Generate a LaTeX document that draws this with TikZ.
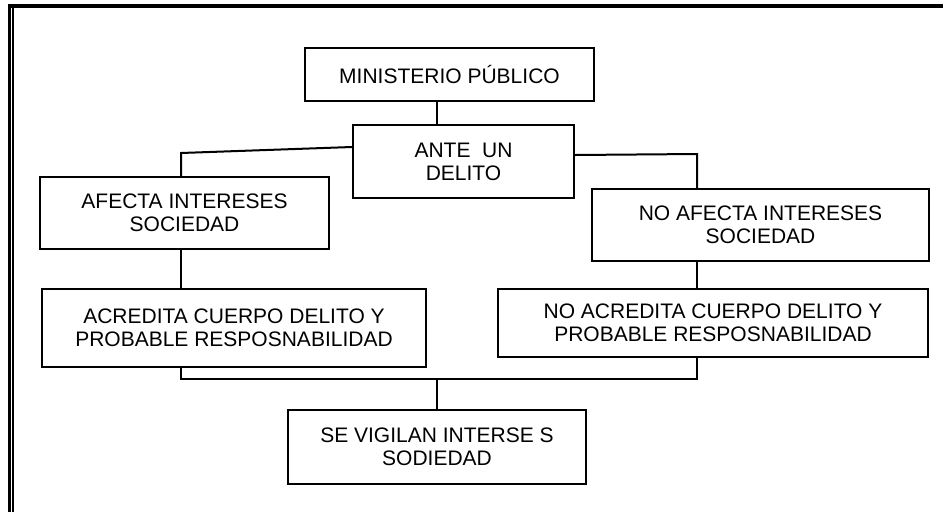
\documentclass[tikz,border=0pt]{standalone}
\usepackage{fontspec}
\setmainfont{Liberation Sans}
\usepackage{tikz}
\usetikzlibrary{calc}

\tikzset{
    chartbox/.style={draw, line width=2pt, align=center, anchor=north west,
        inner sep=0pt, font=\fontsize{21}{23}\selectfont},
    link/.style={line width=2pt}
}

\begin{document}
\begin{tikzpicture}[x=1pt, y=-1pt]
    \useasboundingbox (0,0) rectangle (943,512);

    % Frame
    \draw[line width=4pt] (8,6) -- (943,6);
    \draw[line width=3pt] (9.5,4) -- (9.5,512);
    \draw[line width=1.5pt] (12.8,8) -- (12.8,512);

    % Boxes
    \node[chartbox, minimum width=289, minimum height=53] (min) at (304,47) {MINISTERIO PÚBLICO};
    \node[chartbox, minimum width=221, minimum height=73] (ante) at (352,124) {ANTE\ \ UN\\DELITO};
    \node[chartbox, minimum width=289, minimum height=72] (afecta) at (39,176) {AFECTA INTERESES\\SOCIEDAD};
    \node[chartbox, minimum width=337, minimum height=72] (noafecta) at (591,188) {NO AFECTA INTERESES\\SOCIEDAD};
    \node[chartbox, minimum width=384, minimum height=78] (acredita) at (41,288) {ACREDITA CUERPO DELITO Y\\PROBABLE RESPOSNABILIDAD};
    \node[chartbox, minimum width=430, minimum height=68] (noacredita) at (497,288) {NO ACREDITA CUERPO DELITO Y\\PROBABLE RESPOSNABILIDAD};
    \node[chartbox, minimum width=298, minimum height=74] (vigila) at (287,409) {SE VIGILAN INTERSE S\\SODIEDAD};

    % Junctions
    \coordinate (jM) at (437,0);
    \coordinate (jL) at (181,153);
    \coordinate (jR) at (697,154);
    \coordinate (jB) at (437,379);

    % Connectors
    \draw[link] (min.south -| jM) -- (ante.north -| jM);
    \draw[link] ($(ante.north west)+(0,23)$) -- (jL) -- (afecta.north -| jL);
    \draw[link] ($(ante.north east)+(0,31)$) -- (jR) -- (noafecta.north -| jR);
    \draw[link] (afecta.south -| jL) -- (acredita.north -| jL);
    \draw[link] (noafecta.south -| jR) -- (noacredita.north -| jR);
    \draw[link] (acredita.south -| jL) |- (jB) -| (noacredita.south -| jR);
    \draw[link] (jB) -- (vigila.north -| jB);
\end{tikzpicture}
\end{document}
